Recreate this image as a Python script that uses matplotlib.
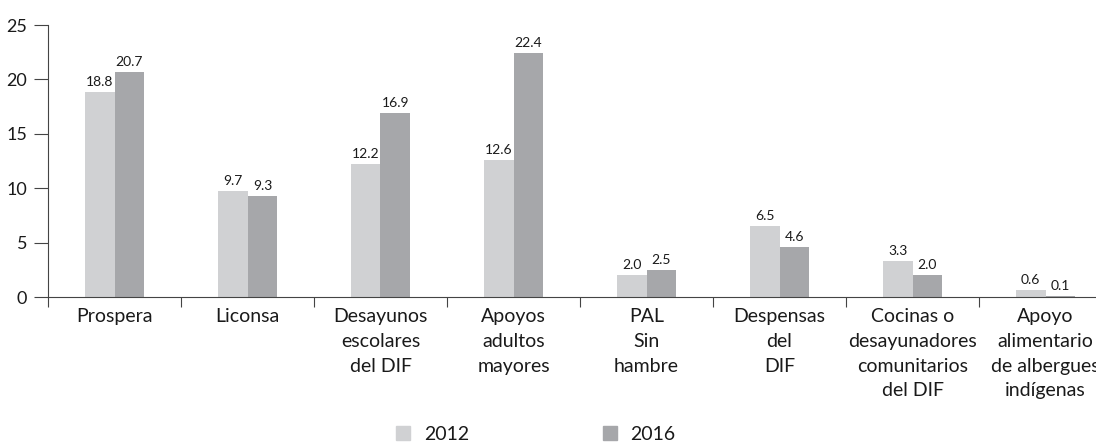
import matplotlib
matplotlib.use("Agg")
import matplotlib.pyplot as plt
from matplotlib.patches import Patch
import numpy as np

categories = ["Prospera", "Liconsa", "Desayunos\nescolares\ndel DIF", "Apoyos\nadultos\nmayores",
              "PAL\nSin\nhambre", "Despensas\ndel\nDIF", "Cocinas o\ndesayunadores\ncomunitarios\ndel DIF",
              "Apoyo\nalimentario\nde albergues\nindígenas"]
v2012 = [18.8, 9.7, 12.2, 12.6, 2.0, 6.5, 3.3, 0.6]
v2016 = [20.7, 9.3, 16.9, 22.4, 2.5, 4.6, 2.0, 0.1]
series_labels = ["2012", "2016"]
c2012 = "#d0d1d3"
c2016 = "#a6a7aa"

plt.rcParams['font.family'] = ['Lato', 'DejaVu Sans']
W, H = 1096, 443
fig = plt.figure(figsize=(W/100, H/100), dpi=100)
ax = fig.add_axes([48/W, (H-297)/H, 1064/W, 272/H])

x = np.arange(len(categories))
bw = 0.225
b1 = ax.bar(x - bw/2, v2012, bw, color=c2012)
b2 = ax.bar(x + bw/2, v2016, bw, color=c2016)
for bars, vals in ((b1, v2012), (b2, v2016)):
    for r, v in zip(bars, vals):
        ax.annotate(f"{v:.1f}", (r.get_x() + r.get_width()/2, v), xytext=(0, 3),
                    textcoords="offset points", ha="center", va="bottom", fontsize=10, color="#1a1a1a")

ax.set_xlim(-0.5, len(categories) - 0.5)
ax.set_ylim(0, 25)
ax.set_yticks(np.arange(0, 26, 5))
ax.set_xticks(x)
ax.set_xticklabels(categories, fontsize=14, linespacing=1.55, va="top", color="#1a1a1a")
ax.set_xticks(np.arange(-0.5, len(categories), 1), minor=True)
ax.tick_params(axis="x", which="major", length=0, pad=8)
ax.tick_params(axis="x", which="minor", length=7, width=0.8, color="#444444")
ax.tick_params(axis="y", length=10, width=0.8, color="#444444", labelsize=13, pad=5,
               labelcolor="#1a1a1a")
for s in ("top", "right"):
    ax.spines[s].set_visible(False)
for s in ("left", "bottom"):
    ax.spines[s].set_color("#444444")
    ax.spines[s].set_linewidth(0.8)

handles = [Patch(color=c2012), Patch(color=c2016)]
fig.legend(handles, series_labels, loc="center", bbox_to_anchor=(536/W, 1 - 434.5/H), ncol=2,
           frameon=False, fontsize=14, handlelength=0.72, handleheight=0.72, handletextpad=0.72,
           columnspacing=6.85, labelcolor="#1a1a1a", borderpad=0.1)

fig.savefig("out.png", dpi=100)
